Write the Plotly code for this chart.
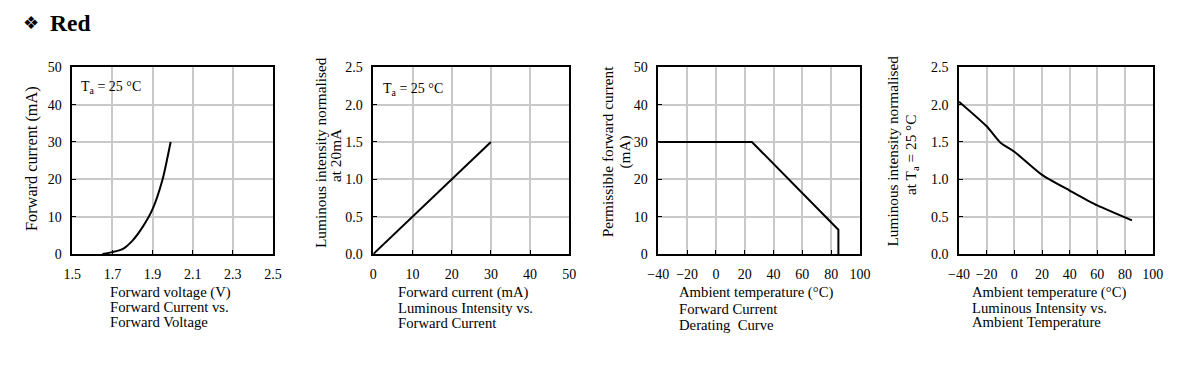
import plotly.graph_objects as go

W, H = 1184, 376
OFF = 8  # page body margin
FW, FH = W - 2 * OFF, H - 2 * OFF
FONT = "Liberation Serif"

# ---- data ----
vf_volts = [1.65, 1.70, 1.75, 1.80, 1.85, 1.90, 1.95, 1.99]
vf_current = [0.0, 0.5, 1.3, 3.6, 7.2, 12.0, 20.0, 30.0]

li_current = [0, 10, 20, 30]
li_rel = [0.0, 0.5, 1.0, 1.5]

der_temp = [-40, 25, 85, 85]
der_current = [30, 30, 6.5, 0]

lt_temp = [-40, -20, -10, 0, 20, 40, 60, 85]
lt_rel = [2.04, 1.71, 1.49, 1.37, 1.06, 0.85, 0.65, 0.45]

x1_ticks = [1.5, 1.7, 1.9, 2.1, 2.3, 2.5]
y1_ticks = [0, 10, 20, 30, 40, 50]
x2_ticks = [0, 10, 20, 30, 40, 50]
y2_ticks = [0.0, 0.5, 1.0, 1.5, 2.0, 2.5]
xt_ticks = [-40, -20, 0, 20, 40, 60, 80, 100]


def px(x):
    return (x - OFF) / FW


def py(y):
    return 1 - (y - OFF) / FH


ydom = [py(254), py(67.3)]
xdoms = [[px(72.3), px(273)], [px(373.3), px(569.3)],
         [px(658.3), px(860)], [px(959), px(1152.7)]]

fig = go.Figure()
series = [(vf_volts, vf_current), (li_current, li_rel),
          (der_temp, der_current), (lt_temp, lt_rel)]
for i, (xs, ys) in enumerate(series):
    sfx = "" if i == 0 else str(i + 1)
    fig.add_trace(go.Scatter(x=xs, y=ys, mode="lines",
                             line=dict(color="black", width=2,
                                       shape="spline" if i in (0, 3) else "linear", smoothing=0.6),
                             xaxis="x" + sfx, yaxis="y" + sfx, showlegend=False,
                             hoverinfo="skip"))

axis_common = dict(showline=True, linecolor="black", linewidth=1.5, mirror=True,
                   showgrid=True, gridcolor="#c9c9c9", gridwidth=1.5,
                   ticks="inside", ticklen=4, tickcolor="black", tickwidth=1,
                   zeroline=False, automargin=False,
                   tickfont=dict(family=FONT, size=14, color="black"))

xcfg = [(x1_ticks, [1.5, 2.5], ".1f"), (x2_ticks, [0, 50], "d"),
        (xt_ticks, [-40, 100], "d"), (xt_ticks, [-40, 100], "d")]
ycfg = [(y1_ticks, [0, 50], "d"), (y2_ticks, [0, 2.5], ".1f"),
        (y1_ticks, [0, 50], "d"), (y2_ticks, [0, 2.5], ".1f")]

layout = {}
for i in range(4):
    sfx = "" if i == 0 else str(i + 1)
    xt, xr, xf = xcfg[i]
    yt, yr, yf = ycfg[i]
    layout["xaxis" + sfx] = dict(axis_common, domain=xdoms[i], range=xr,
                                 tickvals=xt, tickformat=xf,
                                 anchor="y" + sfx, ticklabelstandoff=6)
    layout["yaxis" + sfx] = dict(axis_common, domain=ydom, range=yr,
                                 tickvals=yt, tickformat=yf,
                                 anchor="x" + sfx, ticklabelstandoff=6)

fig.update_layout(**layout)

ann = []


def text(x, y, t, size=14, xanchor="left", angle=0, bold=False, family=FONT, align="left"):
    ann.append(dict(x=px(x), y=py(y), xref="paper", yref="paper",
                    text=("<b>%s</b>" % t) if bold else t,
                    showarrow=False, xanchor=xanchor, yanchor="middle", textangle=angle,
                    align=align, font=dict(family=family, size=size, color="black")))


# header
text(21, 23, "❖", size=18, family="DejaVu Sans")
text(48, 23, "Red", size=23.5, bold=True)

# Ta labels
text(79, 87, "T<sub>a</sub> = 25 °C", size=14)
text(381, 90, "T<sub>a</sub> = 25 °C", size=14)

# x titles and captions
caps = [
    (108, ["Forward voltage (V)", "Forward Current vs.", "Forward Voltage"], [292, 307, 322]),
    (396, ["Forward current (mA)", "Luminous Intensity vs.", "Forward Current"], [292, 308, 323]),
    (677, ["Ambient temperature (°C)", "Forward Current", "Derating&nbsp; Curve"], [292, 309, 325]),
    (970, ["Ambient temperature (°C)", "Luminous Intensity vs.", "Ambient Temperature"], [292, 308, 322]),
]
for x0, lines, ys in caps:
    for t, yy in zip(lines, ys):
        text(x0, yy, t, size=14.7)

# y titles (each line placed separately)
text(31, 159, "Forward current (mA)", size=16.3, xanchor="center", angle=-90)
text(320, 153, "Luminous intensity normalised", size=15.3, xanchor="center", angle=-90)
text(335, 156, "at 20mA", size=15.3, xanchor="center", angle=-90)
text(608.3, 151, "Permissible forward current", size=15.3, xanchor="center", angle=-90)
text(624.5, 152, "(mA)", size=15.3, xanchor="center", angle=-90)
text(892.5, 151, "Luminous intensity normalised", size=15.3, xanchor="center", angle=-90)
text(911, 155, "at T<sub>a</sub> = 25 °C", size=15.3, xanchor="center", angle=-90)

fig.update_layout(annotations=ann, width=FW, height=FH, autosize=False,
                  margin=dict(l=0, r=0, t=0, b=0, pad=0),
                  paper_bgcolor="white", plot_bgcolor="white")

fig.write_html("out.html")
